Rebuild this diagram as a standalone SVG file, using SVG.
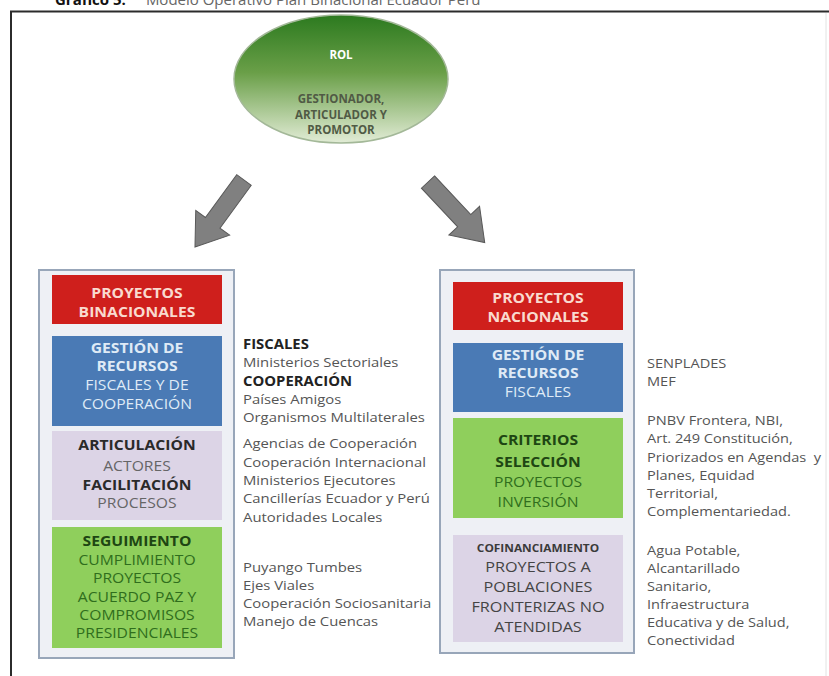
<svg xmlns="http://www.w3.org/2000/svg" width="829" height="676" viewBox="0 0 829 676">
<defs>
<linearGradient id="gEll" x1="0" y1="0" x2="0" y2="1">
<stop offset="0" stop-color="#2c7a1f"/>
<stop offset="0.45" stop-color="#6a9f48"/>
<stop offset="1" stop-color="#e2ecd6"/>
</linearGradient>
<polygon id="blk" points="0,-9 53,-9 53,-21 83,0 53,21 53,9 0,9"/>
</defs>
<style>
.tt{font-family:"Open Sans","Liberation Sans",sans-serif;text-anchor:middle}
.bx{font-size:14px}
.b{font-weight:bold}
.ann{font-family:"Open Sans","Liberation Sans",sans-serif;font-size:13.5px;fill:#555}
.annb{font-weight:bold;fill:#222}
.panel{fill:#eef0f5;stroke:#98a6b9;stroke-width:2}
.red{fill:#cf1f1c}
.blue{fill:#4a7ab5}
.lav{fill:#dcd4e6}
.grn{fill:#8fcf5c}
.tred{fill:#f9dacf}
.tblue{fill:#dfeaf6}
.tdark{fill:#2a2a2a}
.tgray{fill:#666}
.tgd{fill:#1e4613}
.tg{fill:#2f6e1d}
.arrow{fill:#808080;stroke:#595959;stroke-width:1}
</style>
<rect width="829" height="676" fill="#ffffff"/>
<text x="55" y="5" font-family="Open Sans, Liberation Sans, sans-serif" font-size="15"><tspan font-weight="bold" fill="#111">Gráfico 5.</tspan><tspan fill="#666" dx="20">Modelo Operativo Plan Binacional Ecuador Perú</tspan></text>
<line x1="826" y1="13" x2="826" y2="676" stroke="#e2e2e2" stroke-width="1"/>
<path d="M11,676 V11.5 H829" fill="none" stroke="#2b2b2b" stroke-width="2"/>

<g id="rol">
<ellipse cx="341" cy="79" rx="107" ry="64" fill="url(#gEll)" stroke="#a3b898" stroke-width="1.5"/>
<text class="tt b" x="341" y="59" font-size="11.5" fill="#ffffff">ROL</text>
<text class="tt b" x="341" y="103" font-size="11.5" fill="#505a45">GESTIONADOR,</text>
<text class="tt b" x="341" y="118.5" font-size="11.5" fill="#505a45">ARTICULADOR Y</text>
<text class="tt b" x="341" y="134" font-size="11.5" fill="#505a45">PROMOTOR</text>
</g>

<g id="connectors">
<use href="#blk" class="arrow" transform="translate(244,180) rotate(126.2)"/>
<use href="#blk" class="arrow" transform="translate(428,182) rotate(46.9)"/>
</g>

<g id="panel-binacional">
<rect class="panel" x="39" y="270" width="195" height="388"/>
</g>
<g id="proyectos-binacionales">
<rect class="red" x="52" y="275" width="170" height="49"/>
<g transform="translate(137,0) scale(1.12,1)">
<text class="tt bx b tred" x="0" y="298">PROYECTOS</text>
<text class="tt bx b tred" x="0" y="317">BINACIONALES</text>
</g>
</g>
<g id="gestion-binacional">
<rect class="blue" x="52" y="336" width="170" height="90"/>
<g transform="translate(137,0) scale(1.12,1)">
<text class="tt bx b tblue" x="0" y="353">GESTIÓN DE</text>
<text class="tt bx b tblue" x="0" y="371">RECURSOS</text>
<text class="tt bx tblue" x="0" y="390">FISCALES Y DE</text>
<text class="tt bx tblue" x="0" y="409">COOPERACIÓN</text>
</g>
</g>
<g id="articulacion">
<rect class="lav" x="52" y="431" width="170" height="89"/>
<g transform="translate(137,0) scale(1.12,1)">
<text class="tt bx b tdark" x="0" y="450">ARTICULACIÓN</text>
<text class="tt bx tgray" x="0" y="471">ACTORES</text>
<text class="tt bx b tdark" x="0" y="490">FACILITACIÓN</text>
<text class="tt bx tgray" x="0" y="508">PROCESOS</text>
</g>
</g>
<g id="seguimiento">
<rect class="grn" x="52" y="527" width="170" height="121"/>
<g transform="translate(137,0) scale(1.12,1)">
<text class="tt bx b tgd" x="0" y="546">SEGUIMIENTO</text>
<text class="tt bx tg" x="0" y="565">CUMPLIMIENTO</text>
<text class="tt bx tg" x="0" y="583">PROYECTOS</text>
<text class="tt bx tg" x="0" y="602">ACUERDO PAZ Y</text>
<text class="tt bx tg" x="0" y="620">COMPROMISOS</text>
<text class="tt bx tg" x="0" y="638">PRESIDENCIALES</text>
</g>
</g>
<g id="notas-binacional" transform="translate(243,0) scale(1.1,1)">
<text class="ann annb" x="0" y="349">FISCALES</text>
<text class="ann" x="0" y="367">Ministerios Sectoriales</text>
<text class="ann annb" x="0" y="386">COOPERACIÓN</text>
<text class="ann" x="0" y="404">Países Amigos</text>
<text class="ann" x="0" y="422">Organismos Multilaterales</text>
<text class="ann" x="0" y="448">Agencias de Cooperación</text>
<text class="ann" x="0" y="467">Cooperación Internacional</text>
<text class="ann" x="0" y="485">Ministerios Ejecutores</text>
<text class="ann" x="0" y="503">Cancillerías Ecuador y Perú</text>
<text class="ann" x="0" y="522">Autoridades Locales</text>
<text class="ann" x="0" y="572">Puyango Tumbes</text>
<text class="ann" x="0" y="590">Ejes Viales</text>
<text class="ann" x="0" y="608">Cooperación Sociosanitaria</text>
<text class="ann" x="0" y="626">Manejo de Cuencas</text>
</g>

<g id="panel-nacional">
<rect class="panel" x="440" y="270" width="194" height="383"/>
</g>
<g id="proyectos-nacionales">
<rect class="red" x="453" y="282" width="170" height="48"/>
<g transform="translate(538,0) scale(1.12,1)">
<text class="tt bx b tred" x="0" y="303">PROYECTOS</text>
<text class="tt bx b tred" x="0" y="322">NACIONALES</text>
</g>
</g>
<g id="gestion-nacional">
<rect class="blue" x="453" y="343" width="170" height="69"/>
<g transform="translate(538,0) scale(1.12,1)">
<text class="tt bx b tblue" x="0" y="360">GESTIÓN DE</text>
<text class="tt bx b tblue" x="0" y="378">RECURSOS</text>
<text class="tt bx tblue" x="0" y="397">FISCALES</text>
</g>
</g>
<g id="criterios">
<rect class="grn" x="453" y="418" width="170" height="100"/>
<g transform="translate(538,0) scale(1.12,1)">
<text class="tt bx b tgd" x="0" y="445">CRITERIOS</text>
<text class="tt bx b tgd" x="0" y="467">SELECCIÓN</text>
<text class="tt bx tg" x="0" y="487">PROYECTOS</text>
<text class="tt bx tg" x="0" y="507">INVERSIÓN</text>
</g>
</g>
<g id="cofinanciamiento">
<rect class="lav" x="453" y="535" width="170" height="107"/>
<g transform="translate(538,0) scale(1.08,1)">
<text class="tt b" x="0" y="552" font-size="11" fill="#3a3a3a">COFINANCIAMIENTO</text>
<text class="tt" x="0" y="572" font-size="15" fill="#444">PROYECTOS A</text>
<text class="tt" x="0" y="592" font-size="15" fill="#444">POBLACIONES</text>
<text class="tt" x="0" y="612" font-size="15" fill="#444">FRONTERIZAS NO</text>
<text class="tt" x="0" y="632" font-size="15" fill="#444">ATENDIDAS</text>
</g>
</g>
<g id="notas-nacional" transform="translate(647,0) scale(1.08,1)">
<text class="ann" x="0" y="368">SENPLADES</text>
<text class="ann" x="0" y="386">MEF</text>
<text class="ann" x="0" y="425">PNBV Frontera, NBI,</text>
<text class="ann" x="0" y="443">Art. 249 Constitución,</text>
<text class="ann" x="0" y="462" xml:space="preserve">Priorizados en Agendas  y</text>
<text class="ann" x="0" y="480">Planes, Equidad</text>
<text class="ann" x="0" y="498">Territorial,</text>
<text class="ann" x="0" y="516">Complementariedad.</text>
<text class="ann" x="0" y="555">Agua Potable,</text>
<text class="ann" x="0" y="573">Alcantarillado</text>
<text class="ann" x="0" y="591">Sanitario,</text>
<text class="ann" x="0" y="609">Infraestructura</text>
<text class="ann" x="0" y="627">Educativa y de Salud,</text>
<text class="ann" x="0" y="645">Conectividad</text>
</g>
</svg>
